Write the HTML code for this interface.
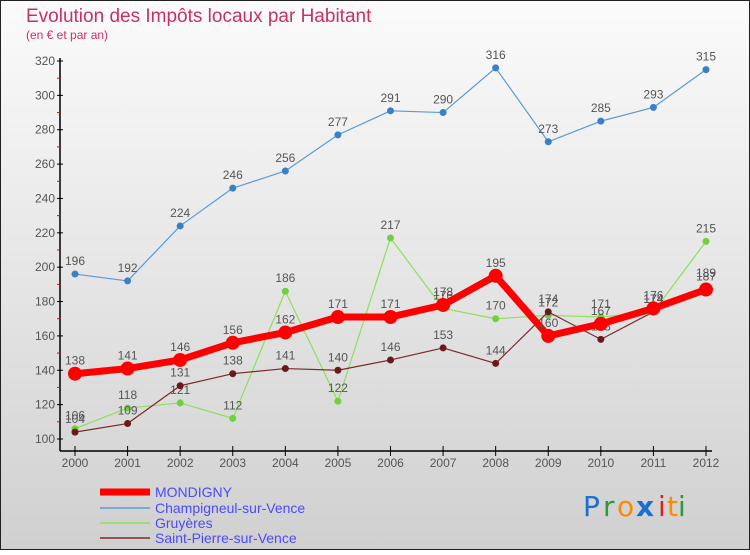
<!DOCTYPE html>
<html><head><meta charset="utf-8"><style>
body{margin:0;width:750px;height:550px;overflow:hidden;font-family:"Liberation Sans",sans-serif}
</style></head><body>
<svg id="c" width="750" height="550" xmlns="http://www.w3.org/2000/svg">
<defs><linearGradient id="bg" x1="0" y1="0" x2="0" y2="1"><stop offset="0" stop-color="#fbfbfb"/><stop offset="1" stop-color="#d0d0d0"/></linearGradient></defs>
<rect x="0.5" y="0.5" width="749" height="549" fill="url(#bg)" stroke="#222"/>
<text x="26" y="22" font-size="19" fill="#c8325f">Evolution des Impôts locaux par Habitant</text>
<text x="26" y="39" font-size="12" fill="#c8325f">(en € et par an)</text>
<g id="axes"></g><g id="series"></g>
<g>
<line x1="100" y1="492" x2="150" y2="492" stroke="#f00" stroke-width="7"/>
<text x="155" y="497" font-size="14" fill="#4a4aff">MONDIGNY</text>
<line x1="100" y1="508" x2="150" y2="508" stroke="#5b9bd5" stroke-width="1.5"/>
<text x="155" y="513" font-size="14" fill="#4a4aff">Champigneul-sur-Vence</text>
<line x1="100" y1="523" x2="150" y2="523" stroke="#8ee05a" stroke-width="1.5"/>
<text x="155" y="528" font-size="14" fill="#4a4aff">Gruyères</text>
<line x1="100" y1="538" x2="150" y2="538" stroke="#7a2a2a" stroke-width="1.5"/>
<text x="155" y="543" font-size="14" fill="#4a4aff">Saint-Pierre-sur-Vence</text>
</g>
<g font-size="28" font-family="'DejaVu Sans',sans-serif">
<text x="583" y="516" fill="#1a6fd0">P</text><text x="603" y="516" fill="#2a9a3a">r</text><text x="617" y="516" fill="#ff8a00">o</text><text x="636" y="516" fill="#1a6fd0" font-weight="bold">x</text><text x="658" y="516" fill="#e02020">i</text><text x="667" y="516" fill="#ff8a00">t</text><text x="678" y="516" fill="#2a9a3a">i</text>
</g>
</svg>
<script>
const years=[2000,2001,2002,2003,2004,2005,2006,2007,2008,2009,2010,2011,2012];
const mondigny=[138,141,146,156,162,171,171,178,195,160,167,176,187];
const champigneul=[196,192,224,246,256,277,291,290,316,273,285,293,315];
const gruyeres=[106,118,121,112,186,122,217,176,170,172,171,174,215];
const saintPierre=[104,109,131,138,141,140,146,153,144,174,158,174,189];
const yTicks=[100,120,140,160,180,200,220,240,260,280,300,320];
const NS="http://www.w3.org/2000/svg";
const x=i=>75+i*(706-75)/(years.length-1);
const y=v=>439-(v-100)*(439-61)/220;
function mk(t,a,p){const e=document.createElementNS(NS,t);for(const k in a)e.setAttribute(k,a[k]);p.appendChild(e);return e;}
const ax=document.getElementById('axes');
const yl=mk('line',{x1:60,y1:58,x2:60,y2:451,stroke:'#000','stroke-width':1.5},ax);


const xl=mk('line',{x1:60,y1:451,x2:712,y2:451,stroke:'#000','stroke-width':1.5},ax);


yTicks.forEach((v,i)=>{
 mk('line',{x1:57,y1:y(v),x2:63,y2:y(v),stroke:'#000'},ax);
 if(i<yTicks.length-1)mk('line',{x1:57,y1:y(v+10),x2:60,y2:y(v+10),stroke:'#f00'},ax);
 const t=mk('text',{x:55,y:y(v)+4,'font-size':12,fill:'#555','text-anchor':'end'},ax);t.textContent=v;
 
 
});
years.forEach((yr,i)=>{
 mk('line',{x1:x(i),y1:446,x2:x(i),y2:456,stroke:'#000'},ax);
 const t=mk('text',{x:x(i),y:467,'font-size':12,fill:'#555','text-anchor':'middle'},ax);t.textContent=yr;
 
 
});
const sg=document.getElementById('series');
function series(d,col,w,r,dot,name){
 const g=mk('g',{},sg);
 
 
 mk('polyline',{points:d.map((v,i)=>x(i)+','+y(v)).join(' '),fill:'none',stroke:col,'stroke-width':w,'stroke-linejoin':'round'},g);
 d.forEach((v,i)=>{
  const c=mk('circle',{cx:x(i),cy:y(v),r:r,fill:dot},g);
  
  
  const t=mk('text',{x:x(i),y:y(v)-9,'font-size':12,fill:'#555','text-anchor':'middle'},g);t.textContent=v;
  
  
 });
}
series(champigneul,'#5b9bd5',1.2,3.5,'#3a80c8','series-champigneul');
series(gruyeres,'#8ee05a',1.2,3.5,'#6fd040','series-gruyeres');
series(saintPierre,'#7a2a2a',1.2,3.5,'#6a1a1a','series-saint-pierre');
series(mondigny,'#f00',7,7,'#f00','series-mondigny');
</script>
</body></html>
